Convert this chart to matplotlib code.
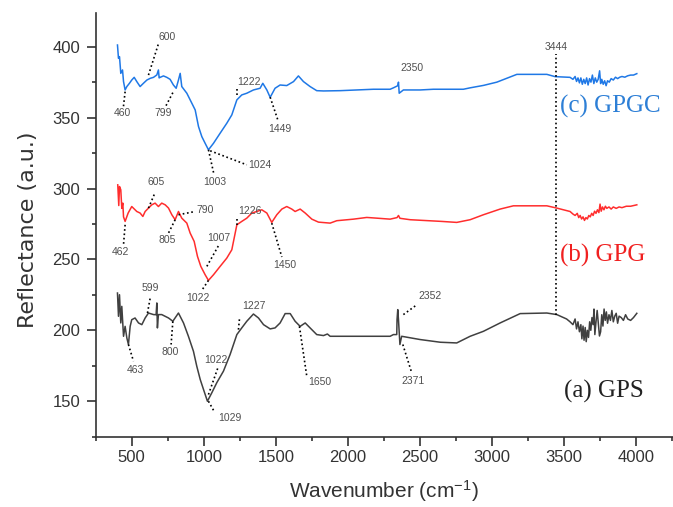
import matplotlib
matplotlib.use("Agg")
import matplotlib.pyplot as plt
from matplotlib.ticker import MultipleLocator

plt.rcParams['font.family'] = ['Liberation Sans', 'DejaVu Sans']
plt.rcParams['mathtext.fontset'] = 'custom'
plt.rcParams['mathtext.rm'] = 'Liberation Sans'
plt.rcParams['mathtext.it'] = 'Liberation Sans'

# ---- data ----
gpgc_w = [401, 408, 415, 424, 436, 443, 454, 466, 484, 500, 517, 535, 558, 581, 605, 628, 651,
          674, 685, 690, 697, 720, 743, 766, 789, 808, 824, 836, 847, 882, 917, 940, 963, 986,
          1009, 1032, 1067, 1113, 1159, 1194, 1229, 1263, 1298, 1344, 1390, 1409, 1437, 1460,
          1494, 1529, 1575, 1622, 1656, 1691, 1737, 1783, 1830, 1945, 2061, 2176, 2292, 2315,
          2345, 2350, 2355, 2384, 2500, 2592, 2800, 2847, 2939, 3032, 3171, 3379, 3436, 3540,
          3560, 3575, 3585, 3595, 3605, 3615, 3625, 3635, 3645, 3655, 3665, 3675, 3685, 3695,
          3705, 3715, 3725, 3735, 3745, 3752, 3760, 3770, 3780, 3790, 3800, 3812, 3825, 3840,
          3855, 3870, 3885, 3900, 3920, 3940, 3960, 3980, 4003]
gpgc_v = [401.2, 391.8, 393.0, 381.2, 383.6, 375.4, 369.5, 371.9, 374.2, 376.5, 378.4, 375.4,
          371.9, 374.2, 376.5, 377.7, 378.4, 380.1, 383.6, 378.0, 378.4, 379.4, 378.4, 377.0,
          373.0, 370.7, 376.5, 381.2, 371.9, 367.2, 360.1, 355.4, 343.7, 336.6, 331.9, 327.3,
          331.9, 339.0, 346.0, 351.9, 362.5, 366.0, 367.2, 369.5, 370.7, 374.2, 369.5, 364.3,
          370.7, 373.0, 372.6, 375.4, 379.4, 375.4, 371.9, 369.0, 368.8, 369.0, 369.5, 370.0,
          370.0, 371.0, 372.5, 375.0, 367.2, 369.5, 369.5, 370.0, 370.0, 371.0, 372.7, 375.0,
          380.5, 380.5, 378.9, 378.4,
          377.0, 379.0, 375.5, 378.0, 374.5, 378.0, 373.5, 377.0, 374.0, 378.0, 373.0, 377.5,
          375.0, 380.0, 374.0, 378.0, 375.0, 377.0, 383.0, 374.0, 377.0, 373.5, 376.0, 372.5,
          376.0, 375.0, 377.5, 376.5, 378.5, 377.5, 378.5, 379.0, 378.5, 379.5, 380.0, 380.0,
          381.0]

gpg_w = [403, 410, 415, 424, 431, 438, 443, 454, 475, 500, 523, 535, 558, 577, 593, 616, 639,
         662, 685, 708, 732, 755, 778, 801, 824, 847, 882, 905, 933, 956, 979, 1009, 1032, 1067,
         1113, 1159, 1194, 1229, 1263, 1298, 1333, 1367, 1402, 1437, 1471, 1506, 1541, 1575,
         1610, 1633, 1668, 1703, 1749, 1795, 1876, 1922, 2038, 2130, 2199, 2292, 2340, 2350,
         2360, 2431, 2650, 2754, 2847, 2939, 3055, 3147, 3379, 3448, 3540,
         3560, 3575, 3590, 3600, 3610, 3620, 3630, 3640, 3650, 3660, 3670, 3680, 3690, 3700,
         3710, 3720, 3730, 3740, 3748, 3756, 3765, 3775, 3785, 3795, 3810, 3825, 3840, 3860,
         3880, 3900, 3930, 3960, 4003]
gpg_v = [302.6, 288.0, 301.4, 299.1, 286.0, 289.7, 280.0, 276.8, 282.7, 287.3, 285.0, 283.8,
         282.7, 280.3, 283.8, 286.2, 288.5, 289.7, 287.3, 289.7, 288.5, 286.2, 281.5, 278.0,
         283.8, 279.1, 275.6, 268.6, 262.7, 252.1, 245.1, 239.2, 235.2, 239.2, 245.1, 250.9,
         256.8, 274.4, 276.8, 279.1, 282.7, 283.8, 285.0, 282.7, 276.1, 281.5, 285.5, 287.3,
         285.5, 283.8, 285.5, 282.7, 278.4, 276.3, 275.6, 277.3, 278.4, 279.6, 279.1, 278.4,
         279.5, 281.0, 279.0, 278.0, 276.8, 276.1, 278.0, 281.5, 285.5, 287.8, 287.8, 286.2,
         283.8,
         282.0, 281.0, 282.5, 279.5, 281.0, 278.5, 280.0, 277.5, 279.5, 278.5, 281.0, 280.0,
         282.5, 281.0, 284.0, 282.5, 285.0, 283.0, 289.0, 284.0, 287.0, 285.0, 287.5, 286.0,
         287.0, 285.5, 287.0, 286.0, 287.0, 286.5, 287.5, 287.5, 288.5]

gps_w = [401, 408, 415, 424, 431, 443, 454, 466, 477, 489, 500, 523, 547, 570, 593, 616, 651,
         669, 674, 678, 685, 708, 755, 785, 824, 859, 893, 928, 951, 975, 998, 1025, 1055, 1090,
         1136, 1182, 1229, 1263, 1298, 1344, 1379, 1414, 1460, 1494, 1529, 1564, 1599, 1633,
         1668, 1703, 1737, 1783, 1830, 1857, 1876, 2292, 2315, 2338, 2340, 2345, 2350, 2360,
         2372, 2500, 2640, 2754, 2847, 2939, 3055, 3194, 3379, 3448, 3516,
         3540, 3560, 3575, 3585, 3595, 3605, 3615, 3622, 3630, 3637, 3645, 3652, 3660, 3668,
         3676, 3684, 3692, 3700, 3706, 3712, 3720, 3728, 3736, 3744, 3752, 3760, 3768, 3776,
         3784, 3792, 3800, 3810, 3820, 3830, 3840, 3850, 3860, 3870, 3880, 3895, 3910, 3925,
         3940, 3960, 3980, 4003]
gps_v = [226.3, 209.9, 225.1, 205.2, 216.9, 195.8, 202.8, 194.6, 190.0, 202.8, 207.5, 208.7,
         205.2, 204.0, 208.7, 212.2, 211.1, 211.0, 219.3, 201.7, 211.1, 211.1, 208.7, 206.4,
         212.2, 205.2, 195.8, 185.2, 174.7, 165.3, 158.2, 150.0, 155.9, 163.1, 171.2, 182.9,
         197.0, 201.7, 206.4, 211.5, 208.7, 204.0, 201.0, 201.7, 205.2, 211.8, 211.8, 206.4,
         202.8, 205.2, 201.7, 197.0, 196.3, 197.4, 195.8, 195.8, 197.0, 197.0, 207.5, 214.6,
         207.5, 190.0, 195.8, 193.5, 191.6, 191.1, 195.8, 199.3, 205.2, 211.8, 212.2, 211.1,
         208.0,
         206.0, 204.0, 208.0, 201.0, 206.0, 199.0, 204.0, 194.0, 203.0, 193.0, 202.0, 192.0,
         200.0, 195.0, 206.0, 200.0, 209.0, 204.0, 215.0, 197.0, 206.0, 214.0, 205.0, 196.0,
         199.0, 211.0, 203.0, 215.0, 207.0, 213.0, 205.0, 211.0, 207.0, 214.0, 206.0, 210.0,
         212.0, 205.0, 210.0, 209.0, 207.0, 211.0, 208.0, 207.0, 209.0, 212.0]

# peak annotations: label, curve point (w, v), leader end (w, v), text position (w, v)
ann_labels = ["460", "600", "799", "1222", "1449", "1003", "1024",
              "462", "605", "790", "805", "1007", "1022", "1226", "1450",
              "599", "463", "800", "1022", "1029", "1227", "1650", "2352", "2371", "2350"]
ann_from = [(454, 368.3), (616, 380.0), (785, 367.6), (1229, 366.0), (1460, 364.4),
            (1032, 327.3), (1044, 326.6),
            (454, 274.4), (616, 286.2), (824, 281.5), (801, 278.0), (1021, 245.1),
            (1032, 235.2), (1229, 274.4), (1471, 275.6),
            (609, 212.2), (477, 190.0), (785, 206.3), (1032, 154.7), (1032, 150.0),
            (1240, 200.5), (1663, 202.8), (2384, 211.1), (2380, 190.0), (2357, 375.4)]
ann_to = [(442, 357.3), (685, 402.0), (732, 357.3), (1229, 370.0), (1517, 347.2),
          (1071, 309.6), (1298, 316.7),
          (442, 259.2), (662, 297.2), (940, 283.8), (755, 268.6), (1101, 259.6),
          (986, 228.2), (1229, 279.0), (1541, 251.7),
          (628, 222.8), (512, 178.2), (773, 190.0), (1101, 174.6), (1071, 142.9),
          (1247, 208.0), (1714, 167.6), (2477, 218.0), (2442, 170.0), (2357, 378.0)]
ann_text = [(438, 353.5), (743, 407.0), (720, 353.5), (1316, 375.4), (1524, 341.8),
            (1078, 304.5), (1386, 316.7),
            (424, 254.9), (669, 304.5), (1009, 285.0), (743, 263.9), (1101, 265.0),
            (956, 222.8), (1316, 283.8), (1564, 246.3),
            (628, 229.9), (524, 172.3), (766, 184.5), (1085, 179.4), (1178, 138.3),
            (1349, 217.0), (1806, 163.4), (2569, 224.0), (2449, 164.1), (2442, 384.8)]

marker_w = 3444
marker_range = (211.0, 395.0)

series_labels = ["(c) GPGC", "(b) GPG", "(a) GPS"]
series_label_pos = [(3470, 357.8), (3470, 252.7), (3497, 157.2)]
series_colors = ["#1f78e6", "#ff2d2d", "#404040"]
label_colors = ["#2d7fd6", "#f02020", "#222222"]

# ---- figure ----
fig = plt.figure(figsize=(6.73, 5.07), dpi=100)
ax = fig.add_axes([0.1422, 0.1387, 0.8578, 0.8363])

for w, v, c in zip([gpgc_w, gpg_w, gps_w], [gpgc_v, gpg_v, gps_v], series_colors):
    ax.plot(w, v, color=c, lw=1.1)

dot = (0, (1, 1.6))
for lab, p0, p1, pt in zip(ann_labels, ann_from, ann_to, ann_text):
    if lab != "2350":
        ax.plot([p0[0], p1[0]], [p0[1], p1[1]], color="black", lw=1.2, ls=dot)
    ax.text(pt[0], pt[1], lab, fontsize=7.5, color="#505050", ha="center", va="center")

ax.plot([marker_w, marker_w], marker_range, color="black", lw=1.2, ls=dot)
ax.text(marker_w, 399.6, "3444", fontsize=7.5, color="#505050", ha="center", va="center")

for lab, (x, y), c in zip(series_labels, series_label_pos, label_colors):
    ax.text(x, y, lab, fontsize=18, color=c, ha="left", va="center",
            family=["Liberation Serif", "DejaVu Serif"])

ax.set_xlim(250, 4254)
ax.set_ylim(125, 424)
ax.spines['top'].set_visible(False)
ax.spines['right'].set_visible(False)
for s in ['left', 'bottom']:
    ax.spines[s].set_linewidth(1.2)
    ax.spines[s].set_color('#333333')
ax.set_xticks([500, 1000, 1500, 2000, 2500, 3000, 3500, 4000])
ax.set_yticks([150, 200, 250, 300, 350, 400])
ax.xaxis.set_minor_locator(MultipleLocator(250))
ax.yaxis.set_minor_locator(MultipleLocator(25))
ax.tick_params(which='major', direction='out', length=6.2, width=1.2, color='#333333',
               labelsize=12, labelcolor='#333333')
ax.tick_params(axis='y', which='major', pad=5)
ax.tick_params(axis='x', which='major', pad=3.5)
ax.tick_params(which='minor', direction='out', length=3.0, width=1.2, color='#333333')
ax.set_xlabel("Wavenumber (cm$^{-1}$)", fontsize=15, color='#333333', va='bottom')
ax.set_ylabel("Reflectance (a.u.)", fontsize=16, color='#333333',
              family=['DejaVu Sans'])
ax.xaxis.set_label_coords(0.5, (436.7 - 504) / 424.0)
ax.yaxis.set_label_coords((37.5 - 95.7) / 577.3, (436.7 - 230) / 424.0)

fig.savefig("out.png", dpi=100)
